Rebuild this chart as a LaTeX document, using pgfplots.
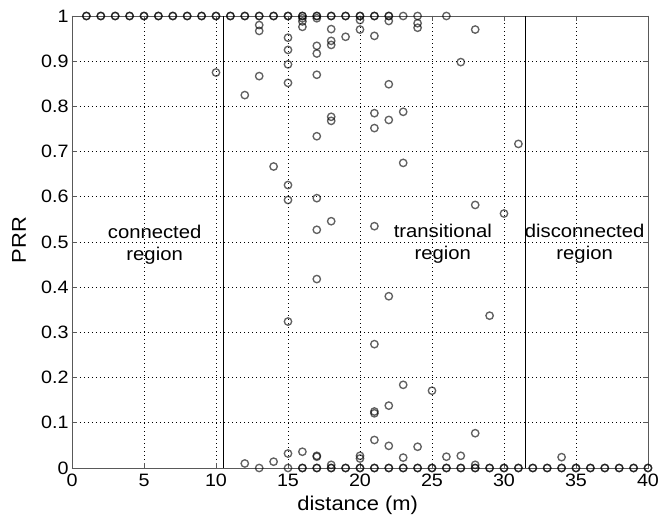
\documentclass[border=0pt]{standalone}
\usepackage{fontspec}
\setmainfont{Liberation Sans}[FakeStretch=1.1]
\usepackage{pgfplots}
\pgfplotsset{compat=1.18}
\begin{document}
\begin{tikzpicture}
\begin{axis}[
  scale only axis, width=576bp, height=452bp,
  at={(0,0)}, anchor=south west,
  xmin=0, xmax=40, ymin=0, ymax=1,
  xtick={0,5,10,15,20,25,30,35,40},
  ytick={0,0.1,0.2,0.3,0.4,0.5,0.6,0.7,0.8,0.9,1},
  yticklabels={0,0.1,0.2,0.3,0.4,0.5,0.6,0.7,0.8,0.9,1},
  grid=major,
  major grid style={black, line width=0.7bp, dash pattern=on 1bp off 3bp},
  tick align=inside, tick pos=both, major tick length=5bp,
  axis line style={black!65, line width=0.9bp},
  every tick/.style={black!65, line width=0.9bp},
  /pgf/number format/assume math mode=true,
  ticklabel style={font=\fontsize{18}{18}\selectfont, text=black},
  xticklabel style={yshift=-2.5bp},
  xlabel={distance (m)}, ylabel={PRR},
  xlabel style={at={(axis description cs:0.496,-0.0951)}, anchor=base, font=\fontsize{20}{20}\selectfont},
  ylabel style={at={(axis description cs:-0.0799,0.504)}, anchor=base, font=\fontsize{20}{20}\selectfont},
  clip=false,
]
% region boundaries
\addplot[black, line width=1bp] coordinates {(10.5,0) (10.5,1)};
\addplot[black, line width=1bp] coordinates {(31.5,0) (31.5,1)};
% measured links
\addplot[only marks, mark=o, mark size=3.7bp,
  mark options={draw=black, draw opacity=0.62, line width=1.35bp}] coordinates {
 (1,1)(2,1)(3,1)(4,1)(5,1)(6,1)(7,1)(8,1)(9,1)(10,1)(11,1)(12,1)(13,1)(14,1)(15,1)(16,1)(17,1)(18,1)(19,1)(20,1)(21,1)(22,1)
 (1,1)(2,1)(3,1)(4,1)(5,1)(6,1)(7,1)(8,1)(9,1)(10,1)(11,1)(12,1)(13,1)(14,1)(15,1)(16,1)(17,1)(18,1)(19,1)(20,1)(21,1)(22,1)
 (23,1)(24,1)(26,1)
 (15,0)(16,0)(17,0)(18,0)(19,0)(20,0)(21,0)(22,0)(23,0)(24,0)(25,0)(26,0)(27,0)(28,0)(29,0)(30,0)(31,0)(32,0)(33,0)(34,0)(35,0)(36,0)(37,0)(38,0)(39,0)(40,0)
 (16,0)(17,0)(18,0)(19,0)(20,0)(21,0)(22,0)(23,0)(24,0)(25,0)(26,0)(27,0)(28,0)(29,0)(30,0)(31,0)(32,0)(33,0)(34,0)(35,0)(36,0)(37,0)(38,0)(39,0)(40,0)
 (10,0.875)
 (12,0.825)(12,0.010)
 (13,0.980)(13,0.967)(13,0.867)(13,0.0)
 (14,0.667)(14,0.014)
 (15,0.952)(15,0.925)(15,0.893)(15,0.852)(15,0.626)(15,0.593)(15,0.324)(15,0.032)
 (16,0.995)(16,0.988)(16,0.976)(16,0.036)
 (17,0.995)(17,0.934)(17,0.917)(17,0.870)(17,0.734)(17,0.597)(17,0.527)(17,0.418)(17,0.027)(17,0.025)
 (18,0.971)(18,0.945)(18,0.936)(18,0.777)(18,0.768)(18,0.546)(18,0.007)
 (19,0.954)
 (20,0.991)(20,0.970)(20,0.027)(20,0.021)
 (21,0.956)(21,0.785)(21,0.752)(21,0.535)(21,0.274)(21,0.125)(21,0.121)(21,0.062)
 (22,0.989)(22,0.849)(22,0.770)(22,0.380)(22,0.138)(22,0.049)
 (23,0.788)(23,0.675)(23,0.184)(23,0.023)
 (24,0.984)(24,0.974)(24,0.047)
 (25,0.171)
 (26,0.025)
 (27,0.898)(27,0.027)
 (28,0.970)(28,0.582)(28,0.077)(28,0.007)
 (29,0.337)
 (30,0.563)
 (31,0.717)
 (34,0.024)
};
\node[align=center, font=\fontsize{18.5}{22.4}\selectfont] at (axis cs:5.74,0.494) {connected\\region};
\node[align=center, font=\fontsize{18.5}{22.4}\selectfont] at (axis cs:25.75,0.4965) {transitional\\region};
\node[align=center, font=\fontsize{18.5}{22.4}\selectfont] at (axis cs:35.6,0.496) {disconnected\\region};
\end{axis}
\pgfresetboundingbox
\useasboundingbox (-72bp,-49bp) rectangle (586bp,468bp);
\end{tikzpicture}
\end{document}
